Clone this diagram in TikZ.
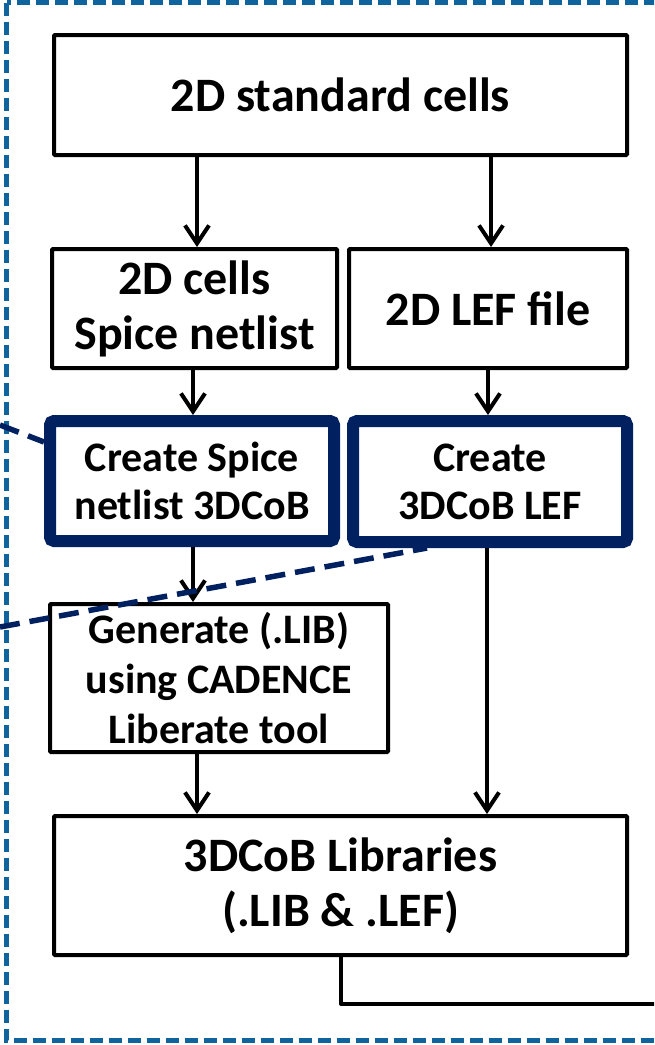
\documentclass[tikz,border=0pt]{standalone}
\usepackage{fontspec}
\setmainfont{Carlito}
\usetikzlibrary{arrows.meta}
\definecolor{navy}{RGB}{0,32,96}
\definecolor{frameblue}{RGB}{16,100,158}

\begin{document}
\begin{tikzpicture}[x=1pt,y=-1pt,
  box/.style={draw=black,line width=4pt,fill=white,rounded corners=1pt,
    inner sep=0pt,align=center,font=\bfseries\fontsize{48}{55}\selectfont},
  keybox/.style={box,draw=navy,line width=12pt,rounded corners=4pt,
    font=\bfseries\fontsize{42}{48}\selectfont},
  genbox/.style={box,font=\bfseries\fontsize{42}{50}\selectfont},
  arr/.style={draw=black,line width=4pt,
    -{Straight Barb[length=18pt,width=24pt,line width=4pt]}},
  wire/.style={draw=black,line width=4pt,line join=round},
  zoomline/.style={draw=navy,line width=5.5pt,dash pattern=on 20pt off 10pt},
  frame/.style={draw=frameblue,line width=5pt,dash pattern=on 13pt off 6pt}]

\useasboundingbox (0,0) rectangle (654,1045);
\clip (0,0) rectangle (654,1045);

% outer dashed frame (continues past the right edge)
\draw[frame] (6.7,2.5) rectangle (700,1040.5);

% flow boxes
\node[box,minimum width=573pt,minimum height=120pt] (std) at (340.5,95) {2D standard cells};
\node[box,minimum width=285pt,minimum height=119pt] (spice) at (194.5,308.5) {2D cells\\Spice netlist};
\node[box,minimum width=278pt,minimum height=119pt] (lef2d) at (488,308.5) {2D LEF file};
\node[keybox,minimum width=284pt,minimum height=120pt] (cspice) at (192,481) {Create Spice\\netlist 3DCoB};
\node[keybox,minimum width=274pt,minimum height=121pt] (clef) at (490,481.5) {Create\\3DCoB LEF};
\node[genbox,minimum width=338pt,minimum height=148pt] (gen) at (219,678) {Generate (.LIB)\\using CADENCE\\Liberate tool};
\node[box,minimum width=573pt,minimum height=139pt] (lib) at (340.5,885.5) {3DCoB Libraries\\(.LIB \& .LEF)};

% vertical guides for the connectors
\coordinate (xa) at (197,0);
\coordinate (xb) at (491,0);
\coordinate (xc) at (193,0);
\coordinate (xd) at (488,0);
\coordinate (xe) at (487,0);
\coordinate (xf) at (341,0);
\coordinate (out) at (700,1004);

% connectors
\draw[arr] (std.south -| xa) -- (spice.north -| xa);
\draw[arr] (std.south -| xb) -- (lef2d.north -| xb);
\draw[arr] (spice.south -| xc) -- (cspice.north -| xc);
\draw[arr] (lef2d.south -| xd) -- (clef.north -| xd);
\draw[arr] (cspice.south -| xc) -- (gen.north -| xc);
\draw[arr] (gen.south -| xa) -- (lib.north -| xa);
\draw[arr] (clef.south -| xe) -- (lib.north -| xe);
\draw[wire] (lib.south -| xf) -- (out -| xf) -- (out);

% callout lines of the zoomed region
\coordinate (za) at (0,425);
\coordinate (zb) at (0,627);
\draw[zoomline] (za) -- ([yshift=39pt]cspice.west);
\draw[zoomline] (zb) -- ([xshift=-63pt]clef.south);
\end{tikzpicture}
\end{document}
